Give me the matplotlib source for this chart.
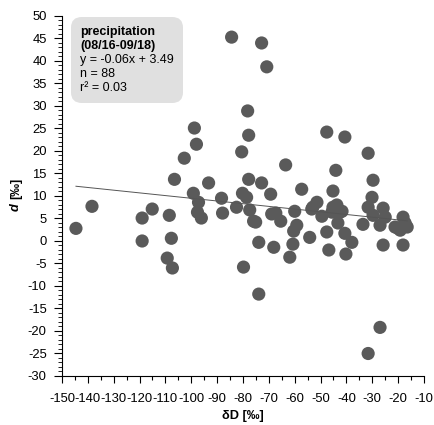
import numpy as np
import matplotlib
matplotlib.use("Agg")
import matplotlib.pyplot as plt
from matplotlib.patches import FancyBboxPatch
from matplotlib.ticker import MultipleLocator

plt.rcParams['font.family'] = ['Liberation Sans', 'DejaVu Sans']
plt.rcParams['axes.unicode_minus'] = False

# deuterium (x) and d-excess (y)
dD = [-144.6, -138.4, -119.0, -119.0, -115.1, -108.5, -107.7, -109.3, -107.3, -106.5,
      -102.7, -98.8, -98.0, -99.2, -97.2, -97.6, -96.1, -93.3, -88.3, -87.9,
      -82.5, -80.5, -80.2, -78.6, -77.4, -84.4, -78.2, -77.8, -77.8, -79.8,
      -72.8, -70.8, -75.9, -75.1, -72.8, -73.9, -73.9, -69.3, -68.9, -67.3,
      -65.4, -68.1, -63.5, -60.7, -61.9, -60.0, -59.2, -60.4, -57.3, -54.2,
      -51.4, -53.0, -53.4, -49.5, -47.6, -47.6, -46.8, -45.2, -44.1, -45.2,
      -43.7, -41.7, -43.3, -40.6, -40.6, -40.2, -37.9, -33.6, -31.6, -29.7,
      -30.1, -31.6, -29.7, -27.0, -25.8, -25.0, -25.8, -27.0, -31.6, -21.2,
      -18.1, -17.3, -19.2, -18.1, -45.6, -20.0, -16.5, -42.5]
d_excess = [2.8, 7.7, 5.1, 0.0, 7.1, 5.7, 0.6, -3.8, -6.0, 13.7,
            18.4, 25.1, 21.5, 10.6, 8.6, 6.4, 5.1, 12.9, 9.5, 6.2,
            7.5, 19.8, 10.6, 9.7, 6.9, 45.3, 28.9, 23.5, 13.7, -5.8,
            44.0, 38.7, 4.4, 4.2, 12.9, -0.3, -11.8, 10.4, 6.0, 6.2,
            4.4, -1.4, 16.9, -0.7, -3.6, 6.6, 3.5, 2.2, 11.5, 0.8,
            8.6, 7.5, 7.1, 5.5, 24.2, 2.0, -2.0, 11.1, 15.7, 7.5,
            8.0, 6.6, 4.0, 1.7, 23.1, -2.9, -0.3, 3.7, 19.5, 13.5,
            9.7, 7.5, 5.7, 3.5, 7.3, 5.3, -0.9, -19.2, -25.0, 3.1,
            5.3, 4.0, 2.4, -0.9, 6.4, 2.8, 3.1, 6.4]

slope = -0.06
intercept = 3.49
legend_lines = ["precipitation", "(08/16-09/18)", "y = -0.06x + 3.49", "n = 88", "r\u00b2 = 0.03"]

fig = plt.figure(figsize=(4.35, 4.25), dpi=100)
ax = fig.add_axes([0.1425, 0.1153, 0.8322, 0.8471])

ax.scatter(dD, d_excess, s=90, color='#5a5a5a', edgecolors='none', zorder=3)

# regression line over the data range
xs = np.array([min(dD), max(dD)])
ax.plot(xs, slope * xs + intercept, color='#555555', lw=0.7, zorder=4)

ax.set_xlim(-150, -10)
ax.set_ylim(-30, 50)
ax.xaxis.set_major_locator(MultipleLocator(10))
ax.xaxis.set_minor_locator(MultipleLocator(5))
ax.yaxis.set_major_locator(MultipleLocator(5))
ax.yaxis.set_minor_locator(MultipleLocator(1))
ax.tick_params(axis='x', which='major', direction='out', length=5, width=0.8, labelsize=9.4, pad=7)
ax.tick_params(axis='x', which='minor', direction='out', length=3, width=0.8)
ax.tick_params(axis='y', which='major', direction='out', length=6, width=0.8, labelsize=9.4, pad=5)
ax.tick_params(axis='y', which='minor', direction='out', length=3, width=0.6)

for s in ['top', 'right']:
    ax.spines[s].set_visible(False)
for s in ['left', 'bottom']:
    ax.spines[s].set_linewidth(0.8)

fig.text(243 / 435, 1 - 416 / 425, "\u03b4D [\u2030]", fontsize=9.2, fontweight='bold',
         ha='center', va='center')
fig.text(16 / 435, 1 - 207 / 425, "d", fontsize=9.2, fontweight='bold', style='italic',
         rotation=90, ha='center', va='center')
fig.text(16 / 435, 1 - 188 / 425, "[\u2030]", fontsize=9.2, fontweight='bold',
         rotation=90, ha='center', va='center')

box = FancyBboxPatch((71 / 435, 1 - 103 / 425), 112 / 435, 86 / 425,
                     boxstyle="round,pad=0,rounding_size=0.025",
                     transform=fig.transFigure, facecolor='#e0e0e0', edgecolor='none', zorder=5)
fig.patches.append(box)
y0 = 32
for i, line in enumerate(legend_lines):
    fig.text(80 / 435, 1 - (y0 + i * 14) / 425, line, fontsize=9,
             fontweight='bold' if i < 2 else 'normal', ha='left', va='center', zorder=6)

fig.savefig("out.png", dpi=100)
